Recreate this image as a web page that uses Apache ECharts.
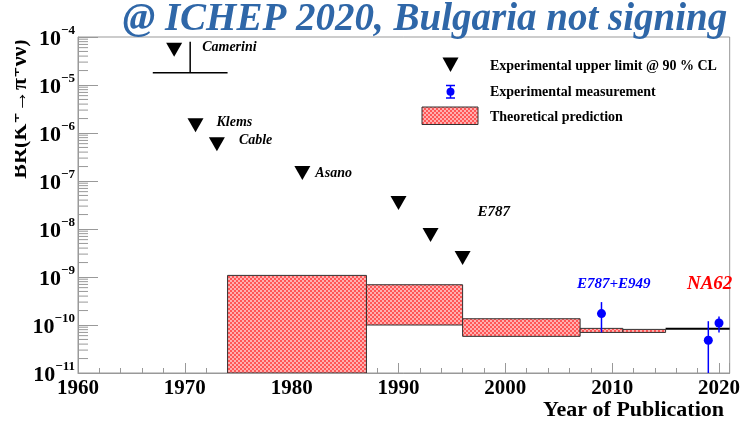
<!DOCTYPE html>
<html>
<head>
<meta charset="utf-8">
<script src="https://cdn.jsdelivr.net/npm/echarts@6/dist/echarts.min.js"></script>
<style>
    html, body { margin: 0; padding: 0; background: #fff; }
    #chart { width: 743px; height: 424px; }
</style>
</head>
<body>
<div id="chart"></div>
<script>
    // upper limits @ 90% CL
    const limitYears = [1969, 1971, 1973, 1981, 1990, 1993, 1996];
    const limitValues = [5.4e-5, 1.45e-6, 5.8e-7, 1.47e-7, 3.5e-8, 7.5e-9, 2.5e-9];
    const limitNames = ['Camerini', 'Klems', 'Cable', 'Asano', '', '', ''];

    // measurements with error bars
    const measYears = [2009, 2019, 2020];
    const measValues = [1.73e-10, 4.8e-11, 1.1e-10];
    const measLow = [7.0e-11, 1e-11, 7.0e-11];
    const measHigh = [3.0e-10, 1.2e-10, 1.5e-10];

    // theoretical prediction boxes
    const theoryStart = [1974, 1987, 1996, 2007, 2011];
    const theoryEnd = [1987, 1996, 2007, 2011, 2015];
    const theoryLow = [1e-11, 1e-10, 5.8e-11, 7.0e-11, 7.0e-11];
    const theoryHigh = [1.08e-9, 6.9e-10, 1.35e-10, 8.5e-11, 8.1e-11];

    // latest prediction
    const latestYears = [2015, 2021];
    const latestValue = 8.4e-11;

    // Camerini bar
    const cameriniSpan = [1967, 1974];
    const cameriniLevel = 1.8e-5;
    const cameriniMark = [1970.5, 8e-5];

    // free text
    const noteNames = ['E787', 'E787+E949', 'NA62'];
    const noteYears = [1997.4, 2006.7, 2017.0];
    const noteValues = [2.26e-8, 7.0e-10, 7.2e-10];

    const xMin = 1960, xMax = 2021;
    const yMin = 1e-11, yMax = 1e-4;
    const minorMult = [2, 3, 4, 5, 6, 7, 8, 9];

    const SERIF = '"Liberation Serif", "DejaVu Serif", serif';

    // hatched pink fill
    const pat = document.createElement('canvas');
    pat.width = 4; pat.height = 4;
    const pc = pat.getContext('2d');
    pc.fillStyle = '#ffb0b0'; pc.fillRect(0, 0, 4, 4);
    pc.fillStyle = '#ff5656'; pc.fillRect(0, 0, 2, 2); pc.fillRect(2, 2, 2, 2);
    const fillPattern = { image: pat, repeat: 'repeat' };

    const labelTweak = {
        Camerini: { distance: 20, offset: [0, -2] },
        Klems: { distance: 13, offset: [0, -3] },
        Cable: { distance: 14, offset: [0, -4] },
        Asano: { distance: 5, offset: [0, 0] }
    };
    const noteStyle = {
        'E787': { color: '#000', fontSize: 15 },
        'E787+E949': { color: '#0000ff', fontSize: 15 },
        'NA62': { color: '#ff0000', fontSize: 19 }
    };

    let minorTicks = [];
    for (let e = -11; e < -4; e++) {
        minorMult.forEach(m => minorTicks.push([xMin, m * Math.pow(10, e)]));
    }

    const option = {
        animation: false,
        grid: {
            left: 78, right: 9, top: 37, bottom: 51,
            show: true, borderColor: '#999', borderWidth: 1
        },
        xAxis: {
            type: 'value',
            min: xMin, max: xMax, interval: 10,
            axisLine: { lineStyle: { color: '#999' } },
            axisTick: { inside: true, length: 10, lineStyle: { color: '#999' } },
            minorTick: { show: true, splitNumber: 5, length: 5, lineStyle: { color: '#999' } },
            splitLine: { show: false },
            axisLabel: {
                margin: 5,
                color: '#000',
                fontFamily: SERIF, fontWeight: 'bold', fontSize: 21,
                formatter: v => (v % 10 === 0 ? String(v) : '')
            }
        },
        yAxis: {
            type: 'log', logBase: 10,
            min: yMin, max: yMax, splitNumber: 7,
            axisLine: { lineStyle: { color: '#999' } },
            axisTick: { inside: true, length: 20, lineStyle: { color: '#999' } },
            splitLine: { show: false },
            axisLabel: {
                margin: 3,
                formatter: v => '{b|10}{e|\u2212' + Math.abs(Math.round(Math.log10(v))) + '}',
                rich: {
                    b: { fontFamily: SERIF, fontWeight: 'bold', fontSize: 22, color: '#000', verticalAlign: 'bottom', lineHeight: 26 },
                    e: { fontFamily: SERIF, fontWeight: 'bold', fontSize: 13, color: '#000', verticalAlign: 'top', lineHeight: 26 }
                }
            }
        },
        graphic: [
            {
                type: 'text', x: 425, y: 0, z: 100,
                style: { text: '@ ICHEP 2020, Bulgaria not signing', font: 'italic bold 39px ' + SERIF, fill: '#2f67a8', align: 'center' }
            },
            {
                type: 'text', x: 31, y: 109, rotation: Math.PI / 2, z: 50,
                style: { text: 'BR(K\u207A\u2192\u03C0\u207A\u03BD\u03BD\u0305)', font: 'bold 22px ' + SERIF, fill: '#000', align: 'center', verticalAlign: 'bottom' }
            },
            { type: 'rect', shape: { x: 0, y: 30, width: 15, height: 160 }, style: { fill: '#fff' }, z: 60 },
            {
                type: 'text', x: 724, y: 410,
                style: { text: 'Year of Publication', font: 'bold 22px ' + SERIF, fill: '#000', align: 'right', verticalAlign: 'middle' }
            },
            // legend
            { type: 'polygon', shape: { points: [[442.5, 57.5], [458.5, 57.5], [450.5, 72]] }, style: { fill: '#000' } },
            {
                type: 'text', x: 490, y: 66,
                style: { text: 'Experimental upper limit @ 90 % CL', font: 'bold 14px ' + SERIF, fill: '#000', verticalAlign: 'middle' }
            },
            { type: 'line', shape: { x1: 450.5, y1: 85.5, x2: 450.5, y2: 98 }, style: { stroke: '#0000ff', lineWidth: 1.5 } },
            { type: 'line', shape: { x1: 446, y1: 85.5, x2: 455, y2: 85.5 }, style: { stroke: '#0000ff', lineWidth: 1.5 } },
            { type: 'line', shape: { x1: 446, y1: 98, x2: 455, y2: 98 }, style: { stroke: '#0000ff', lineWidth: 1.5 } },
            { type: 'circle', shape: { cx: 450.5, cy: 91.7, r: 4 }, style: { fill: '#0000ff' } },
            {
                type: 'text', x: 490, y: 92,
                style: { text: 'Experimental measurement', font: 'bold 14px ' + SERIF, fill: '#000', verticalAlign: 'middle' }
            },
            { type: 'rect', shape: { x: 422, y: 107, width: 56, height: 17.5 }, style: { fill: fillPattern, stroke: '#333', lineWidth: 1 } },
            {
                type: 'text', x: 490, y: 117,
                style: { text: 'Theoretical prediction', font: 'bold 14px ' + SERIF, fill: '#000', verticalAlign: 'middle' }
            }
        ],
        series: [
            {
                // log minor ticks on the y axis
                type: 'custom', silent: true, clip: false, z: 1,
                data: minorTicks,
                renderItem: (params, api) => {
                    const p = api.coord([api.value(0), api.value(1)]);
                    return {
                        type: 'line',
                        shape: { x1: p[0], y1: p[1], x2: p[0] + 10, y2: p[1] },
                        style: { stroke: '#999', lineWidth: 1 }
                    };
                }
            },
            {
                name: 'Theoretical prediction',
                type: 'custom', z: 2, clip: true,
                data: theoryStart.map((s, i) => [s, theoryEnd[i], theoryLow[i], theoryHigh[i]]),
                encode: { x: [0, 1], y: [2, 3] },
                renderItem: (params, api) => {
                    const a = api.coord([api.value(0), api.value(3)]);
                    const b = api.coord([api.value(1), api.value(2)]);
                    return {
                        type: 'rect',
                        shape: { x: a[0], y: a[1], width: b[0] - a[0], height: b[1] - a[1] },
                        style: { fill: fillPattern, stroke: '#333', lineWidth: 1 }
                    };
                }
            },
            {
                type: 'line', z: 3, symbol: 'none', silent: true,
                data: latestYears.map(y => [y, latestValue]),
                lineStyle: { color: '#000', width: 2 }
            },
            {
                type: 'line', z: 3, symbol: 'none', silent: true,
                data: cameriniSpan.map(y => [y, cameriniLevel]),
                lineStyle: { color: '#000', width: 1.5 }
            },
            {
                type: 'line', z: 3, symbol: 'none', silent: true,
                data: [[cameriniMark[0], cameriniLevel], [cameriniMark[0], cameriniMark[1]]],
                lineStyle: { color: '#000', width: 1.5 }
            },
            {
                name: 'Experimental upper limit @ 90 % CL',
                type: 'scatter', z: 4,
                symbol: 'path://M0,0 L16,0 L8,14 Z',
                symbolSize: [16, 14],
                itemStyle: { color: '#000', opacity: 1 },
                data: limitYears.map((y, i) => {
                    const t = labelTweak[limitNames[i]];
                    return {
                        name: limitNames[i],
                        value: [y, limitValues[i]],
                        label: t ? {
                            show: true, position: 'right', distance: t.distance, offset: t.offset,
                            formatter: '{b}', color: '#000',
                            fontFamily: SERIF, fontStyle: 'italic', fontWeight: 'bold', fontSize: 14
                        } : { show: false }
                    };
                })
            },
            {
                type: 'custom', z: 5, clip: true,
                data: measYears.map((y, i) => [y, measLow[i], measHigh[i]]),
                encode: { x: 0, y: [1, 2] },
                renderItem: (params, api) => {
                    const lo = api.coord([api.value(0), api.value(1)]);
                    const hi = api.coord([api.value(0), api.value(2)]);
                    return {
                        type: 'line',
                        shape: { x1: lo[0], y1: lo[1], x2: hi[0], y2: hi[1] },
                        style: { stroke: '#0000ff', lineWidth: 1.5 }
                    };
                }
            },
            {
                name: 'Experimental measurement',
                type: 'scatter', z: 6,
                symbol: 'circle', symbolSize: 9,
                itemStyle: { color: '#0000ff', opacity: 1 },
                data: measYears.map((y, i) => [y, measValues[i]])
            },
            {
                type: 'scatter', z: 6, symbolSize: 0, silent: true,
                itemStyle: { opacity: 1 },
                data: noteNames.map((n, i) => ({
                    name: n,
                    value: [noteYears[i], noteValues[i]],
                    label: {
                        show: true, position: 'right', distance: 0, formatter: '{b}',
                        color: noteStyle[n].color, fontSize: noteStyle[n].fontSize,
                        fontFamily: SERIF, fontStyle: 'italic', fontWeight: 'bold', opacity: 1
                    }
                }))
            }
        ]
    };

    const myChart = echarts.init(document.getElementById('chart'));
    myChart.setOption(option);
</script>
</body>
</html>
